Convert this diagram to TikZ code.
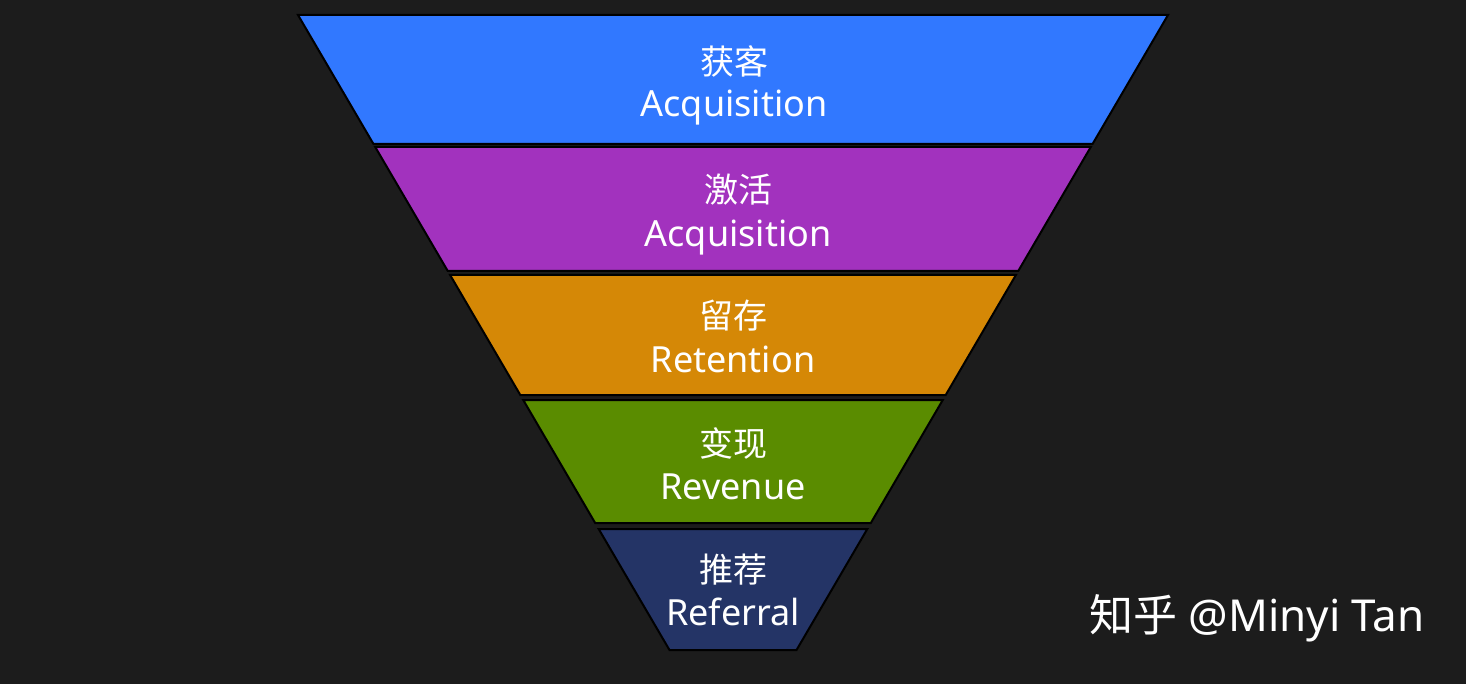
\documentclass[tikz,border=0pt]{standalone}
\usepackage{fontspec}
\setmainfont{Noto Sans}
\newfontfamily\cjk{Noto Sans CJK SC}
\definecolor{bg}{HTML}{1C1C1C}
\definecolor{cA}{HTML}{3178FF}
\definecolor{cB}{HTML}{A232BE}
\definecolor{cC}{HTML}{D58806}
\definecolor{cD}{HTML}{5A8C00}
\definecolor{cE}{HTML}{243466}
\tikzset{
  band/.style={draw=black, line width=2pt, line join=miter},
  lbl/.style={text=white, font=\fontsize{36}{40}\selectfont, inner sep=0pt, anchor=base},
  zh/.style={text=white, font=\cjk\fontsize{34}{40}\selectfont, align=center, inner sep=0pt},
  wm/.style={text=white, font=\fontsize{44}{48}\selectfont, inner sep=0pt, anchor=base west}
}
\newcommand{\lx}[1]{298+0.585*(#1-15)}
\newcommand{\rx}[1]{1168-0.585*(#1-15)}
\begin{document}
\begin{tikzpicture}[x=1pt,y=-1pt]
\fill[bg] (0,0) rectangle (1466,684);
\useasboundingbox (0,0) rectangle (1466,684);
\foreach \t/\b/\c in {15/144/cA,147/271/cB,275/395/cC,400/523/cD,529/650/cE}{
  \filldraw[band, fill=\c] ({\lx{\t}},\t) -- ({\rx{\t}},\t) -- ({\rx{\b}},\b) -- ({\lx{\b}},\b) -- cycle;
}
\node[zh] (a1) at (734,61) {获客};
\node[lbl] (a2) at (734,117) {Acquisition};
\node[zh] (b1) at (738,190) {激活};
\node[lbl] (b2) at (738,247) {Acquisition};
\node[zh] (c1) at (733,316) {留存};
\node[lbl] (c2) at (733,372) {Retention};
\node[zh] (d1) at (733,443) {变现};
\node[lbl] (d2) at (733,499) {Revenue};
\node[zh] (e1) at (733,570) {推荐};
\node[lbl] (e2) at (733,625) {Referral};
\node[wm] (w) at (1089,631) {{\cjk 知乎} @Minyi Tan};
\end{tikzpicture}
\end{document}
